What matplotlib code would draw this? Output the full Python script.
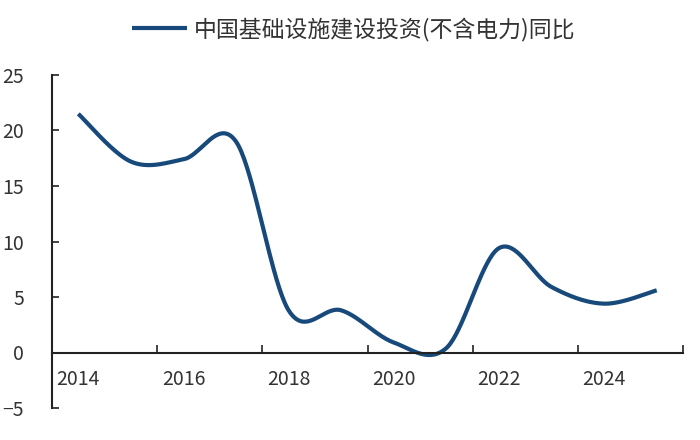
import numpy as np
import matplotlib.pyplot as plt

plt.rcParams['font.family'] = ['Noto Sans CJK SC', 'DejaVu Sans']

# data
years = [2014, 2015, 2016, 2017, 2018, 2019, 2020, 2021, 2022, 2023, 2024, 2025]
growth = [21.5, 17.2, 17.4, 19.0, 3.8, 3.8, 0.9, 0.4, 9.4, 5.9, 4.4, 5.6]
label = '中国基础设施建设投资(不含电力)同比'
line_color = '#17497a'
text_color = '#333333'


def smooth(x, y, n=40):
    # catmull-rom style bezier, like excel "smoothed line"
    x = np.asarray(x, float)
    y = np.asarray(y, float)
    px = np.concatenate([[x[0]], x, [x[-1]]])
    py = np.concatenate([[y[0]], y, [y[-1]]])
    t = np.linspace(0, 1, n)
    xs, ys = [], []
    for i in range(len(x) - 1):
        p0 = np.array([px[i], py[i]])
        p1 = np.array([px[i + 1], py[i + 1]])
        p2 = np.array([px[i + 2], py[i + 2]])
        p3 = np.array([px[i + 3], py[i + 3]])
        c1 = p1 + (p2 - p0) / 6
        c2 = p2 - (p3 - p1) / 6
        pts = ((1 - t) ** 3)[:, None] * p1 + (3 * (1 - t) ** 2 * t)[:, None] * c1 \
            + (3 * (1 - t) * t ** 2)[:, None] * c2 + (t ** 3)[:, None] * p2
        xs.append(pts[:, 0])
        ys.append(pts[:, 1])
    return np.concatenate(xs), np.concatenate(ys)


pos = np.arange(len(years))
sx, sy = smooth(pos, growth)

fig = plt.figure(figsize=(7, 4.4), dpi=100)
ax = fig.add_axes([52 / 700, 1 - 408 / 440, 631 / 700, 333 / 440])
ax.plot(sx, sy, color=line_color, lw=3, label=label, solid_capstyle='butt')

ax.set_xlim(-0.5, len(years) - 0.5)
ax.set_ylim(-5, 25)
ax.spines['top'].set_visible(False)
ax.spines['right'].set_visible(False)
ax.spines['bottom'].set_position(('data', 0))
for s in ['left', 'bottom']:
    ax.spines[s].set_color('#222222')
    ax.spines[s].set_linewidth(1.5)

ax.set_yticks(range(-5, 30, 5))
ax.tick_params(axis='y', direction='in', length=5, width=1.2, color='#222222',
               labelsize=14, labelcolor=text_color, pad=20)

ax.set_xticks(np.arange(-0.5, len(years), 2))
ax.set_xticklabels([])
ax.set_xticks(pos[::2], minor=True)
ax.set_xticklabels([str(y) for y in years[::2]], minor=True)
ax.tick_params(axis='x', which='major', direction='in', length=6, width=1.2, color='#222222')
ax.tick_params(axis='x', which='minor', length=0, labelsize=14, labelcolor=text_color, pad=12)

fig.legend(loc='center', bbox_to_anchor=(354 / 700, 1 - 29 / 440), frameon=False,
           fontsize=16.5, handlelength=2.4, handletextpad=0.3, labelcolor=text_color)

fig.savefig('out.png', dpi=100)
